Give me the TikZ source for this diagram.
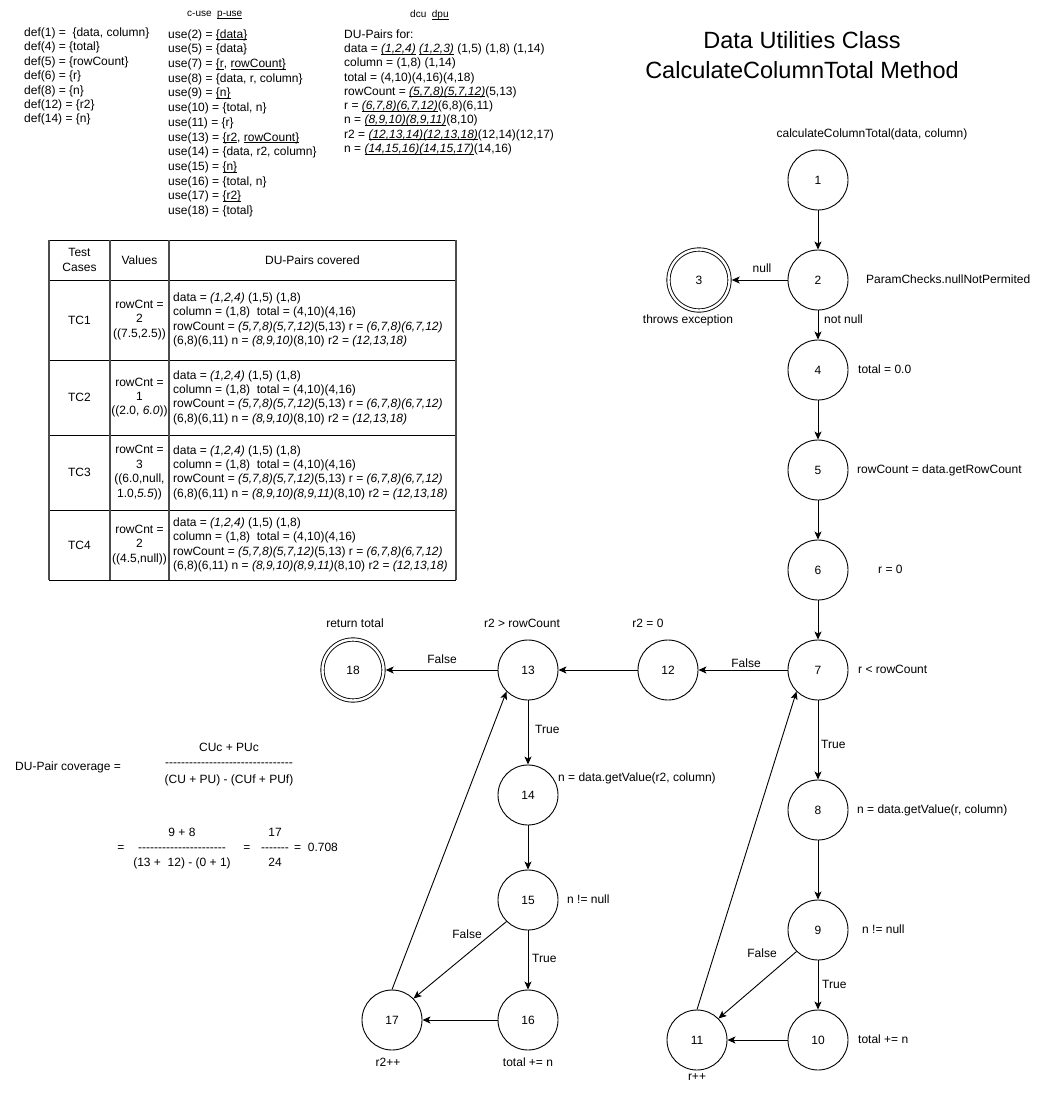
\documentclass[tikz,border=0pt]{standalone}
\usepackage{fontspec}
\setmainfont{Liberation Sans}[Ligatures=TeXOff]
\usetikzlibrary{arrows.meta}
\newcommand\myfs{\fontsize{12}{14.4}\selectfont}
\newcommand\myul[1]{\setbox0\hbox{#1}\rlap{\rule[-1.7pt]{\wd0}{0.6pt}}\box0\relax}
\begin{document}
\begin{tikzpicture}[x=1pt,y=-1pt,
  st/.style={circle, draw, line width=0.9pt, minimum size=60pt, inner sep=0pt, font=\myfs},
  fin/.style={circle, draw, line width=0.9pt, double, double distance=2.4pt, minimum size=61pt, inner sep=0pt, outer sep=2.2pt, font=\myfs},
  arr/.style={line width=0.9pt, -{Stealth[length=8pt,width=7pt,inset=2pt]}},
  lbl/.style={font=\myfs, inner sep=0pt, text height=8.6pt, text depth=2.4pt},
  blk/.style={inner sep=0pt, anchor=north west, align=left},
  cell/.style={inner sep=0pt, align=center, font=\myfs},
  dcell/.style={inner sep=0pt, align=left, anchor=west, font=\myfs},
  hline/.style={line width=1pt, black},
  vline/.style={line width=1.5pt, black!70}
]
\useasboundingbox (0,0) rectangle (1044,1093);
\fill[white] (0,0) rectangle (1044,1093);

% ---------- title ----------
\node[inner sep=0pt, anchor=base, font=\fontsize{23.5}{27}\selectfont] (t1) at (802,48) {Data Utilities Class};
\node[inner sep=0pt, anchor=base, font=\fontsize{23.5}{27}\selectfont] (t2) at (802,78) {CalculateColumnTotal Method};

% ---------- def / use / DU lists ----------
\node[blk, font=\fontsize{12}{14.4}\selectfont] (defs) at (24,27.7) {%
def(1) =~ \{data, column\}\\
def(4) = \{total\}\\
def(5) = \{rowCount\}\\
def(6) = \{r\}\\
def(8) = \{n\}\\
def(12) = \{r2\}\\
def(14) = \{n\}};

\node[inner sep=0pt, anchor=west, font=\fontsize{10}{12}\selectfont] (cphead) at (187,15) {c-use~~\myul{p-use}};
\node[inner sep=0pt, anchor=west, font=\fontsize{10}{12}\selectfont] (ddhead) at (410,15) {dcu~~\myul{dpu}};

\node[blk, font=\fontsize{12}{14.7}\selectfont] (uses) at (168,29.2) {%
use(2) = \myul{\{data\}}\\
use(5) = \{data\}\\
use(7) = \myul{\{r}, \myul{rowCount\}}\\
use(8) = \{data, r, column\}\\
use(9) = \myul{\{n\}}\\
use(10) = \{total, n\}\\
use(11) = \{r\}\\
use(13) = \myul{\{r2}, \myul{rowCount\}}\\
use(14) = \{data, r2, column\}\\
use(15) = \myul{\{n\}}\\
use(16) = \{total, n\}\\
use(17) = \myul{\{r2\}}\\
use(18) = \{total\}};

\node[blk, font=\fontsize{12}{14.3}\selectfont] (dupairs) at (344,29.2) {%
DU-Pairs for:\\
data = \myul{\textit{(1,2,4)}} \myul{\textit{(1,2,3)}} (1,5) (1,8) (1,14)\\
column = (1,8) (1,14)\\
total = (4,10)(4,16)(4,18)\\
rowCount = \myul{\textit{(5,7,8)}}\myul{\textit{(5,7,12)}}(5,13)\\
r = \myul{\textit{(6,7,8)}}\myul{\textit{(6,7,12)}}(6,8)(6,11)\\
n = \myul{\textit{(8,9,10)}}\myul{\textit{(8,9,11)}}(8,10)\\
r2 = \myul{\textit{(12,13,14)}}\myul{\textit{(12,13,18)}}(12,14)(12,17)\\
n = \myul{\textit{(14,15,16)}}\myul{\textit{(14,15,17)}}(14,16)};

% ---------- table ----------
\draw[hline] (49,240) -- (456,240);
\draw[hline] (49,280) -- (456,280);
\draw[hline] (49,360) -- (456,360);
\draw[hline] (49,435) -- (456,435);
\draw[hline] (49,510) -- (456,510);
\draw[hline] (49,580) -- (456,580);
\draw[vline] (49,240) -- (49,580);
\draw[vline] (110,240) -- (110,580);
\draw[vline] (169,240) -- (169,580);
\draw[vline] (456,240) -- (456,580);

\node[cell] (h1) at (79.5,260) {Test\\Cases};
\node[cell] (h2) at (139.5,260) {Values};
\node[cell] (h3) at (312.5,260) {DU-Pairs covered};

\node[cell] (tc1) at (79.5,320) {TC1};
\node[cell] (v1) at (139.5,320) {rowCnt =\\2\\((7.5,2.5))};
\node[dcell] (d1) at (173,320) {%
data = \textit{(1,2,4)} (1,5) (1,8)\\
column = (1,8)~ total = (4,10)(4,16)\\
rowCount = \textit{(5,7,8)(5,7,12)}(5,13) r = \textit{(6,7,8)(6,7,12)}\\
(6,8)(6,11) n = \textit{(8,9,10)}(8,10) r2 = \textit{(12,13,18)}};

\node[cell] (tc2) at (79.5,397.5) {TC2};
\node[cell] (v2) at (139.5,397.5) {rowCnt =\\1\\((2.0, \textit{6.0}))};
\node[dcell] (d2) at (173,397.5) {%
data = \textit{(1,2,4)} (1,5) (1,8)\\
column = (1,8)~ total = (4,10)(4,16)\\
rowCount = \textit{(5,7,8)(5,7,12)}(5,13) r = \textit{(6,7,8)(6,7,12)}\\
(6,8)(6,11) n = \textit{(8,9,10)}(8,10) r2 = \textit{(12,13,18)}};

\node[cell] (tc3) at (79.5,472.5) {TC3};
\node[cell] (v3) at (139.5,472.5) {rowCnt =\\3\\((6.0,null,\\1.0,\textit{5.5}))};
\node[dcell] (d3) at (173,472.5) {%
data = \textit{(1,2,4)} (1,5) (1,8)\\
column = (1,8)~ total = (4,10)(4,16)\\
rowCount = \textit{(5,7,8)(5,7,12)}(5,13) r = \textit{(6,7,8)(6,7,12)}\\
(6,8)(6,11) n = \textit{(8,9,10)(8,9,11)}(8,10) r2 = \textit{(12,13,18)}};

\node[cell] (tc4) at (79.5,545) {TC4};
\node[cell] (v4) at (139.5,545) {rowCnt =\\2\\((4.5,null))};
\node[dcell] (d4) at (173,545) {%
data = \textit{(1,2,4)} (1,5) (1,8)\\
column = (1,8)~ total = (4,10)(4,16)\\
rowCount = \textit{(5,7,8)(5,7,12)}(5,13) r = \textit{(6,7,8)(6,7,12)}\\
(6,8)(6,11) n = \textit{(8,9,10)(8,9,11)}(8,10) r2 = \textit{(12,13,18)}};

% ---------- coverage formula ----------
\node[lbl, anchor=west] (cov) at (15,767) {DU-Pair coverage =};
\node[lbl] (fnum) at (229,748) {CUc + PUc};
\node[lbl] (fbar) at (229,763) {--------------------------------};
\node[lbl] (fden) at (229,780) {(CU + PU) - (CUf + PUf)};

\node[lbl] (eq1) at (121,848) {=};
\node[lbl] (gnum) at (182,833) {9 + 8};
\node[lbl] (gbar) at (182,848) {----------------------};
\node[lbl] (gden) at (182,863) {(13 +~ 12) - (0 + 1)};
\node[lbl] (eq2) at (247,848) {=};
\node[lbl] (hnum) at (275,833) {17};
\node[lbl] (hbar) at (275,848) {-------};
\node[lbl] (hden) at (275,863) {24};
\node[lbl, anchor=west] (res) at (294,848) {=~ 0.708};

% ---------- flow graph ----------
\node[st] (n1) at (818,180) {1};
\node[st] (n2) at (818,280) {2};
\node[fin] (n3) at (699,280) {3};
\node[st] (n4) at (818,370) {4};
\node[st] (n5) at (818,470) {5};
\node[st] (n6) at (818,570) {6};
\node[st] (n7) at (818,670) {7};
\node[st] (n8) at (818,810) {8};
\node[st] (n9) at (818,930) {9};
\node[st] (n10) at (818,1040) {10};
\node[st] (n11) at (697,1040) {11};
\node[st] (n12) at (668,670) {12};
\node[st] (n13) at (528,670) {13};
\node[fin] (n18) at (353,670) {18};
\node[st] (n14) at (528,795) {14};
\node[st] (n15) at (528,900) {15};
\node[st] (n16) at (528,1020) {16};
\node[st] (n17) at (392,1020) {17};

\draw[arr] (n1) -- (n2);
\draw[arr] (n2) -- (n3);
\draw[arr] (n2) -- (n4);
\draw[arr] (n4) -- (n5);
\draw[arr] (n5) -- (n6);
\draw[arr] (n6) -- (n7);
\draw[arr] (n7) -- (n12);
\draw[arr] (n12) -- (n13);
\draw[arr] (n13) -- (n18);
\draw[arr] (n13) -- (n14);
\draw[arr] (n14) -- (n15);
\draw[arr] (n15) -- (n16);
\draw[arr] (n15.south west) -- (n17.north east);
\draw[arr] (n16) -- (n17);
\draw[arr] (n17.north) -- (n13.south west);
\draw[arr] (n7) -- (n8);
\draw[arr] (n8) -- (n9);
\draw[arr] (n9) -- (n10);
\draw[arr] (n9.south west) -- (n11.north east);
\draw[arr] (n10) -- (n11);
\draw[arr] (n11.north) -- (n7.south west);

% ---------- graph labels ----------
\node[lbl] (l1) at (872,134) {calculateColumnTotal(data, column)};
\node[lbl, anchor=west] (l2) at (866,280) {ParamChecks.nullNotPermited};
\node[lbl] (lnull) at (762,269) {null};
\node[lbl] (l3) at (688,320) {throws exception};
\node[lbl, anchor=west] (lnn) at (824,320) {not null};
\node[lbl, anchor=west] (l4) at (858,370) {total = 0.0};
\node[lbl, anchor=west] (l5) at (857,470) {rowCount = data.getRowCount};
\node[lbl, anchor=west] (l6) at (878,570) {r = 0};
\node[lbl, anchor=west] (l7) at (858,670) {r < rowCount};
\node[lbl] (lf7) at (746,664) {False};
\node[lbl, anchor=west] (lt7) at (821,745) {True};
\node[lbl, anchor=west] (l8) at (857,810) {n = data.getValue(r, column)};
\node[lbl, anchor=west] (l9) at (862,930) {n != null};
\node[lbl] (lf9) at (762,954) {False};
\node[lbl, anchor=west] (lt9) at (822,985) {True};
\node[lbl, anchor=west] (l10) at (858,1040) {total += n};
\node[lbl] (l11) at (697,1077) {r++};
\node[lbl] (l12) at (648,624) {r2 = 0};
\node[lbl] (l13) at (522,624) {r2 > rowCount};
\node[lbl] (l18) at (355,624) {return total};
\node[lbl] (lf13) at (442,660) {False};
\node[lbl, anchor=west] (lt13) at (535,730) {True};
\node[lbl, anchor=west] (l14) at (558,778) {n = data.getValue(r2, column)};
\node[lbl, anchor=west] (l15) at (567,900) {n != null};
\node[lbl] (lf15) at (467,935) {False};
\node[lbl, anchor=west] (lt15) at (532,959) {True};
\node[lbl] (l17) at (388,1063) {r2++};
\node[lbl] (l16) at (528,1063) {total += n};
\end{tikzpicture}
\end{document}
